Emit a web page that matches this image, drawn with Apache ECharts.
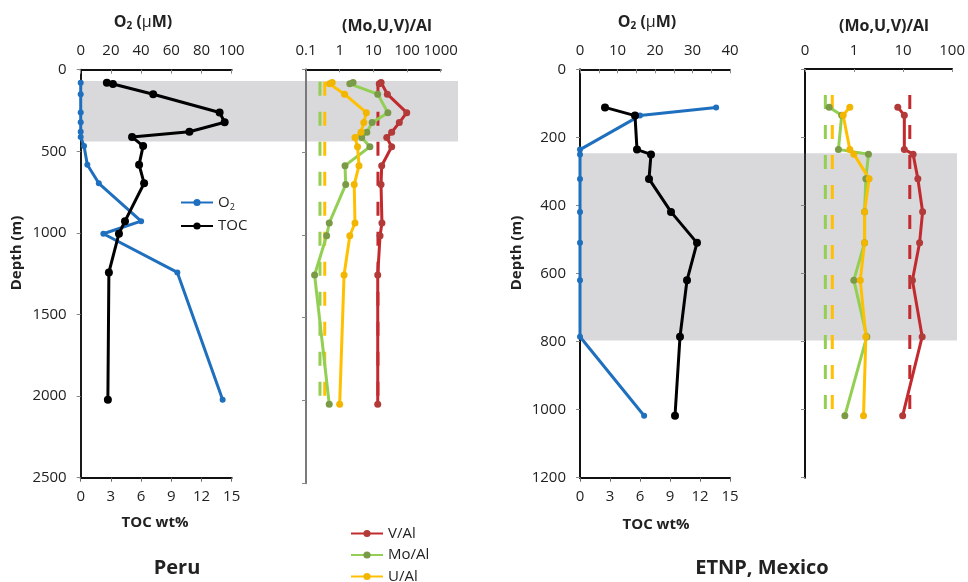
<!DOCTYPE html>
<html>
<head>
<meta charset="utf-8">
<script src="https://cdn.jsdelivr.net/npm/echarts@6/dist/echarts.min.js"></script>
<style>
  html, body { margin: 0; padding: 0; background: #fff; }
  #chart { width: 968px; height: 582px; }
</style>
</head>
<body>
<div id="chart"></div>
<script>
// ---- Peru ----
var peruDepth = [80, 88, 150, 262, 322, 380, 412, 468, 582, 696, 928, 1005, 1242, 2022];
var peruO2Depth = [80, 150, 262, 322, 380, 412, 468, 582, 696, 928, 1005, 1242, 2022];
var peruO2 = [0, 0, 0, 0, 0, 0, 2.2, 4.4, 12, 40, 15, 64, 94];
var peruTOC = [2.6, 3.2, 7.2, 13.8, 14.3, 10.8, 5.1, 6.2, 5.8, 6.3, 4.4, 3.8, 2.8, 2.7];
var peruV = [17, 15, 26, 98, 59, 35, 25, 35, 17.7, 16.9, 18, 15.8, 13.5, 13.5];
var peruMo = [2.5, 2.0, 13.5, 27, 9.2, 6.4, 4.5, 7.9, 1.44, 1.51, 0.49, 0.41, 0.18, 0.49];
var peruU = [0.6, 0.5, 1.4, 6.2, 5.2, 4.3, 2.85, 3.4, 3.75, 2.7, 2.85, 2.0, 1.35, 1.0];
var peruOMZ = [70, 440];
var peruDash = [75, 2030];

// ---- ETNP, Mexico ----
var mexDepth = [112, 136, 236, 250, 322, 419, 510, 620, 786, 1018];
var mexO2 = [36.3, 16.0, 0, 0, 0, 0, 0, 0, 0, 17.1];
var mexTOC = [2.5, 5.5, 5.7, 7.1, 6.9, 9.1, 11.7, 10.7, 10.0, 9.5];
var mexV = [7.8, 10.6, 10.6, 16, 20, 25, 21.7, 15.5, 24.5, 9.8];
var mexMo = [0.31, 0.56, 0.48, 1.97, 1.74, 1.64, 1.64, 0.99, 1.82, 0.65];
var mexU = [0.82, 0.6, 0.82, 0.99, 2.03, 1.64, 1.64, 1.34, 1.74, 1.56];
var mexOMZ = [247, 797];
var mexDash = [76, 1038];

// average shale reference ratios: V/Al, Mo/Al, U/Al
var shaleRatio = [13.7, 0.26, 0.36];

var peruTicksO2 = [0, 100, 20];
var mexTicksO2 = [0, 40, 10];
var tocTicks = [0, 15, 3];

var FONT = '"Open Sans", "Liberation Sans", sans-serif';
var TXT = '#222';
var BLUE = '#1f6fbf', RED = '#c22a2e', GREEN = '#92cf52', YELLOW = '#ffc000';

function pairs(xs, ys) {
    return xs.map(function (x, i) { return [x, ys[i]]; });
}
function plain(v) { return String(v); }

var chart = echarts.init(document.getElementById('chart'));

var labelStyle = { fontFamily: FONT, fontSize: 15, color: TXT };

function topValueAxis(grid, t, minor) {
    return {
        type: 'value', gridIndex: grid, position: 'top',
        min: t[0], max: t[1], interval: t[2],
        axisLine: { show: true, lineStyle: { color: '#111', width: 2 } },
        axisTick: { show: true, inside: true, length: 4, lineStyle: { color: '#888' } },
        minorTick: { show: !!minor, splitNumber: 2, length: 4, lineStyle: { color: '#888' } },
        axisLabel: Object.assign({ margin: 11, formatter: plain }, labelStyle),
        splitLine: { show: false }
    };
}
function bottomValueAxis(grid, t) {
    return {
        type: 'value', gridIndex: grid, position: 'bottom',
        min: t[0], max: t[1], interval: t[2],
        axisLine: { show: true, lineStyle: { color: '#111', width: 2 } },
        axisTick: { show: true, length: 4, lineStyle: { color: '#666' } },
        axisLabel: Object.assign({ margin: 12, formatter: plain }, labelStyle),
        splitLine: { show: false }
    };
}
function topLogAxis(grid, min, max, zeroLabel) {
    return {
        type: 'log', gridIndex: grid, position: 'top', logBase: 10,
        min: min, max: max,
        axisLine: { show: true, lineStyle: { color: '#111', width: 2 } },
        axisTick: { show: true, inside: true, length: 3, lineStyle: { color: '#888' } },
        axisLabel: Object.assign({
            margin: 11,
            formatter: function (v) {
                if (zeroLabel && v < 1) return '0';
                return String(+v.toPrecision(3));
            }
        }, labelStyle),
        splitLine: { show: false }
    };
}
function depthAxis(grid, max, step, showLabel, lineColor) {
    return {
        type: 'value', gridIndex: grid, inverse: true,
        min: 0, max: max, interval: step,
        axisLine: { show: true, onZero: false, lineStyle: { color: lineColor, width: 2 } },
        axisTick: { show: true, length: 4, lineStyle: { color: '#888' } },
        axisLabel: Object.assign({ show: showLabel, margin: 14, formatter: plain }, labelStyle),
        splitLine: { show: false }
    };
}
function hiddenAxis(grid, max) {
    return { type: 'value', gridIndex: grid, min: 0, max: max, show: false, inverse: true };
}

function dataLine(name, xi, yi, xs, ys, lineColor, dotColor, size) {
    return {
        name: name, type: 'line', xAxisIndex: xi, yAxisIndex: yi,
        data: pairs(xs, ys), clip: false,
        symbol: 'circle', symbolSize: size,
        lineStyle: { color: lineColor, width: 3 },
        itemStyle: { color: dotColor },
        z: 3
    };
}
function dashLine(name, xi, yi, value, range, color) {
    return {
        name: name, type: 'line', xAxisIndex: xi, yAxisIndex: yi,
        data: [[value, range[0]], [value, range[1]]], clip: false,
        symbol: 'none',
        lineStyle: { color: color, width: 3, type: [14, 16] },
        z: 2
    };
}
function band(xi, yi, range) {
    return {
        type: 'line', xAxisIndex: xi, yAxisIndex: yi, data: [],
        silent: true, z: 10,
        markArea: {
            silent: true,
            itemStyle: { color: 'rgba(118,120,128,0.28)' },
            data: [[{ xAxis: 0, yAxis: range[0] }, { xAxis: 1, yAxis: range[1] }]]
        }
    };
}

var legendText = {
    fontFamily: FONT, fontSize: 15, color: TXT, lineHeight: 14,
    rich: {
        m: { fontFamily: FONT, fontSize: 15, color: TXT, lineHeight: 14 },
        s: { fontFamily: FONT, fontSize: 9, color: TXT, padding: [9, 0, 0, 0] }
    }
};

var option = {
    backgroundColor: '#fff',
    animation: false,
    textStyle: { fontFamily: FONT },
    grid: [
        { left: 80.7, top: 69.7, width: 151, height: 408 },
        { left: 306, top: 69.3, width: 134.7, height: 414 },
        { left: 580, top: 69.3, width: 150, height: 408.4 },
        { left: 805, top: 69, width: 150.7, height: 408.7 },
        { left: 80.7, top: 69.7, width: 377.3, height: 408 },
        { left: 580, top: 69.3, width: 377, height: 408.4 }
    ],
    xAxis: [
        topValueAxis(0, peruTicksO2, false),
        bottomValueAxis(0, tocTicks),
        topLogAxis(1, 0.1, 1000, false),
        topValueAxis(2, mexTicksO2, true),
        bottomValueAxis(2, tocTicks),
        topLogAxis(3, 0.1, 100, true),
        hiddenAxis(4, 1),
        hiddenAxis(5, 1)
    ],
    yAxis: [
        depthAxis(0, 2500, 500, true, '#1a1a1a'),
        depthAxis(1, 2500, 500, false, '#7a7a7a'),
        depthAxis(2, 1200, 200, true, '#111'),
        depthAxis(3, 1200, 200, false, '#111'),
        hiddenAxis(4, 2500),
        hiddenAxis(5, 1200)
    ],
    legend: [
        {
            data: ['O2', 'TOC'], orient: 'vertical', left: 180, top: 195, padding: 0,
            itemWidth: 32, itemHeight: 9, itemGap: 7,
            textStyle: legendText,
            formatter: function (n) { return n === 'O2' ? '{m|O}{s|2}' : n; }
        },
        {
            data: ['V/Al', 'Mo/Al', 'U/Al'], orient: 'vertical', left: 350, top: 526,
            padding: 0, height: 70,
            itemWidth: 32, itemHeight: 9, itemGap: 6.5,
            textStyle: legendText
        }
    ],
    graphic: [
        {
            type: 'text', x: 143, y: 22,
            style: {
                text: '{b|O}{s|2}{b| (}{u|µ}{b|M)}', align: 'center', verticalAlign: 'middle',
                rich: {
                    b: { fontFamily: FONT, fontWeight: 'bold', fontSize: 16, fill: TXT },
                    u: { fontFamily: FONT, fontSize: 16, fill: TXT },
                    s: { fontFamily: FONT, fontWeight: 'bold', fontSize: 10, fill: TXT, padding: [9, 0, 0, 0] }
                }
            }
        },
        {
            type: 'text', x: 647, y: 22,
            style: {
                text: '{b|O}{s|2}{b| (}{u|µ}{b|M)}', align: 'center', verticalAlign: 'middle',
                rich: {
                    b: { fontFamily: FONT, fontWeight: 'bold', fontSize: 16, fill: TXT },
                    u: { fontFamily: FONT, fontSize: 16, fill: TXT },
                    s: { fontFamily: FONT, fontWeight: 'bold', fontSize: 10, fill: TXT, padding: [9, 0, 0, 0] }
                }
            }
        },
        {
            type: 'text', x: 387, y: 26,
            style: { text: '(Mo,U,V)/Al', align: 'center', verticalAlign: 'middle',
                     font: 'bold 16px ' + FONT, fill: TXT }
        },
        {
            type: 'text', x: 884, y: 26,
            style: { text: '(Mo,U,V)/Al', align: 'center', verticalAlign: 'middle',
                     font: 'bold 16px ' + FONT, fill: TXT }
        },
        {
            type: 'text', x: 155, y: 523,
            style: { text: 'TOC wt%', align: 'center', verticalAlign: 'middle',
                     font: 'bold 15px ' + FONT, fill: TXT }
        },
        {
            type: 'text', x: 656, y: 525,
            style: { text: 'TOC wt%', align: 'center', verticalAlign: 'middle',
                     font: 'bold 15px ' + FONT, fill: TXT }
        },
        {
            type: 'text', x: 17, y: 253, rotation: Math.PI / 2,
            style: { text: 'Depth (m)', align: 'center', verticalAlign: 'middle',
                     font: 'bold 15px ' + FONT, fill: TXT }
        },
        {
            type: 'text', x: 517, y: 253, rotation: Math.PI / 2,
            style: { text: 'Depth (m)', align: 'center', verticalAlign: 'middle',
                     font: 'bold 15px ' + FONT, fill: TXT }
        },
        {
            type: 'text', x: 177, y: 568,
            style: { text: 'Peru', align: 'center', verticalAlign: 'middle',
                     font: 'bold 20px ' + FONT, fill: TXT }
        },
        {
            type: 'text', x: 762, y: 568,
            style: { text: 'ETNP, Mexico', align: 'center', verticalAlign: 'middle',
                     font: 'bold 20px ' + FONT, fill: TXT }
        }
    ],
    series: [
        // Peru
        dashLine('V/Al avg', 2, 1, shaleRatio[0], peruDash, RED),
        dashLine('Mo/Al avg', 2, 1, shaleRatio[1], peruDash, GREEN),
        dashLine('U/Al avg', 2, 1, shaleRatio[2], peruDash, YELLOW),
        dataLine('O2', 0, 0, peruO2, peruO2Depth, BLUE, BLUE, 6),
        dataLine('TOC', 1, 0, peruTOC, peruDepth, '#000', '#000', 8),
        dataLine('V/Al', 2, 1, peruV, peruDepth, RED, '#b23a38', 7),
        dataLine('Mo/Al', 2, 1, peruMo, peruDepth, GREEN, '#7b9a48', 7),
        dataLine('U/Al', 2, 1, peruU, peruDepth, YELLOW, '#f2b600', 7),
        // Mexico
        dashLine('V/Al avg', 5, 3, shaleRatio[0], mexDash, RED),
        dashLine('Mo/Al avg', 5, 3, shaleRatio[1], mexDash, GREEN),
        dashLine('U/Al avg', 5, 3, shaleRatio[2], mexDash, YELLOW),
        dataLine('O2', 3, 2, mexO2, mexDepth, BLUE, BLUE, 6),
        dataLine('TOC', 4, 2, mexTOC, mexDepth, '#000', '#000', 8),
        dataLine('V/Al', 5, 3, mexV, mexDepth, RED, '#b23a38', 7),
        dataLine('Mo/Al', 5, 3, mexMo, mexDepth, GREEN, '#7b9a48', 7),
        dataLine('U/Al', 5, 3, mexU, mexDepth, YELLOW, '#f2b600', 7),
        // oxygen minimum zone shading
        band(6, 4, peruOMZ),
        band(7, 5, mexOMZ)
    ]
};

chart.setOption(option);
window.addEventListener('resize', chart.resize);
</script>
</body>
</html>
